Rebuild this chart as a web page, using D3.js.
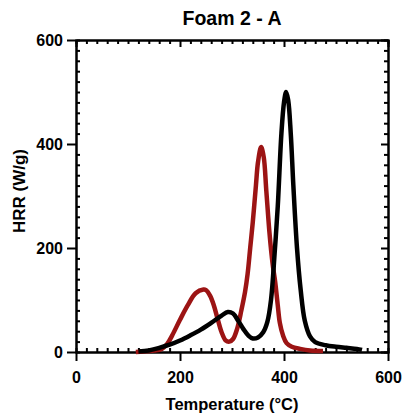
<!DOCTYPE html>
<html>
<head>
<meta charset="utf-8">
<script src="https://cdn.jsdelivr.net/npm/d3@7"></script>
<style>
  body { margin: 0; background: #fff; }
  svg { font-family: "Liberation Sans", Arial, sans-serif; }
  .axis text { font-size: 16px; font-weight: bold; fill: #000; }
  .axis path, .axis line { stroke: #000; stroke-width: 2; }
</style>
</head>
<body>
<div id="graf"></div>
<script>
// Foam 2 - A : HRR vs temperature
const xTicks = [0, 200, 400, 600];
const yTicks = [0, 200, 400, 600];

// black series
const blackT = [120, 140, 160, 180, 200, 220, 240, 260, 280, 292, 302, 312, 322, 332, 340, 350, 360, 368, 375, 382, 388, 395, 400, 404, 408, 413, 418, 425, 432, 440, 450, 460, 480, 500, 520, 540, 550];
const blackHRR = [1, 3, 8, 14, 22, 32, 43, 56, 70, 77, 74, 60, 44, 31, 26, 28, 38, 58, 100, 190, 280, 420, 480, 500, 485, 420, 320, 200, 120, 60, 30, 19, 13, 10, 8, 6, 4];

// red series
const redT = [115, 130, 150, 165, 175, 185, 200, 215, 230, 245, 250, 258, 265, 272, 280, 288, 295, 302, 310, 318, 325, 330, 335, 340, 346, 350, 356, 361, 366, 372, 378, 383, 388, 392, 398, 405, 415, 431, 450, 475];
const redHRR = [0, 1, 3, 6, 15, 32, 62, 90, 113, 120, 119, 108, 90, 65, 38, 22, 20, 25, 45, 80, 115, 150, 200, 250, 320, 365, 394, 375, 310, 230, 170, 135, 90, 56, 32, 17, 10, 6, 3, 2];

const margin = { top: 40, right: 16, bottom: 65, left: 76 };
const anchoTotal = 404, altoTotal = 417;
const ancho = 312, alto = 312;

const svg = d3.select("#graf").append("svg")
    .attr("width", anchoTotal)
    .attr("height", altoTotal);
const g = svg.append("g").attr("transform", `translate(${margin.left}, ${margin.top})`);

const x = d3.scaleLinear().domain([0, 600]).range([0, ancho]);
const y = d3.scaleLinear().domain([0, 600]).range([alto, 0]);
const minor = d3.range(0, 601, 20).filter((v) => v % 200 != 0);

// minor ticks (inward)
g.append("g").attr("class", "axis").attr("transform", `translate(0, ${alto})`)
    .call(d3.axisBottom(x).tickValues(minor).tickSize(-4).tickFormat(""));
g.append("g").attr("class", "axis")
    .call(d3.axisLeft(y).tickValues(minor).tickSize(-4).tickFormat(""));
g.append("g").attr("class", "axis")
    .call(d3.axisTop(x).tickValues(minor).tickSize(-4).tickFormat(""));
g.append("g").attr("class", "axis").attr("transform", `translate(${ancho}, 0)`)
    .call(d3.axisRight(y).tickValues(minor).tickSize(-4).tickFormat(""));

// major ticks
g.append("g").attr("class", "axis").attr("transform", `translate(0, ${alto})`)
    .call(d3.axisBottom(x).tickValues(xTicks).tickSizeInner(9).tickSizeOuter(0).tickPadding(11));
g.append("g").attr("class", "axis")
    .call(d3.axisLeft(y).tickValues(yTicks).tickSizeInner(9).tickSizeOuter(0).tickPadding(4));
g.append("g").attr("class", "axis")
    .call(d3.axisTop(x).tickValues(xTicks).tickSizeInner(-7).tickSizeOuter(0).tickFormat(""));
g.append("g").attr("class", "axis").attr("transform", `translate(${ancho}, 0)`)
    .call(d3.axisRight(y).tickValues(yTicks).tickSizeInner(-7).tickSizeOuter(0).tickFormat(""));

// lines
const line = d3.line().x((d) => x(d[0])).y((d) => y(d[1])).curve(d3.curveCatmullRom);
g.append("path")
    .datum(d3.zip(redT, redHRR))
    .attr("d", line)
    .attr("fill", "none")
    .attr("stroke", "#9c1414")
    .attr("stroke-width", 4.5)
    .attr("stroke-linejoin", "round");
g.append("path")
    .datum(d3.zip(blackT, blackHRR))
    .attr("d", line)
    .attr("fill", "none")
    .attr("stroke", "#000")
    .attr("stroke-width", 4.5)
    .attr("stroke-linejoin", "round");

// titles
svg.append("text")
    .attr("x", margin.left + ancho / 2)
    .attr("y", 25)
    .attr("text-anchor", "middle")
    .attr("font-size", 19.5)
    .attr("font-weight", "bold")
    .text("Foam 2 - A");
svg.append("text")
    .attr("x", margin.left + ancho / 2)
    .attr("y", 410)
    .attr("text-anchor", "middle")
    .attr("font-size", 16.5)
    .attr("font-weight", "bold")
    .text("Temperature (°C)");
svg.append("text")
    .attr("transform", `translate(25, 191) rotate(-90)`)
    .attr("text-anchor", "middle")
    .attr("font-size", 17)
    .attr("font-weight", "bold")
    .text("HRR (W/g)");
</script>
</body>
</html>
